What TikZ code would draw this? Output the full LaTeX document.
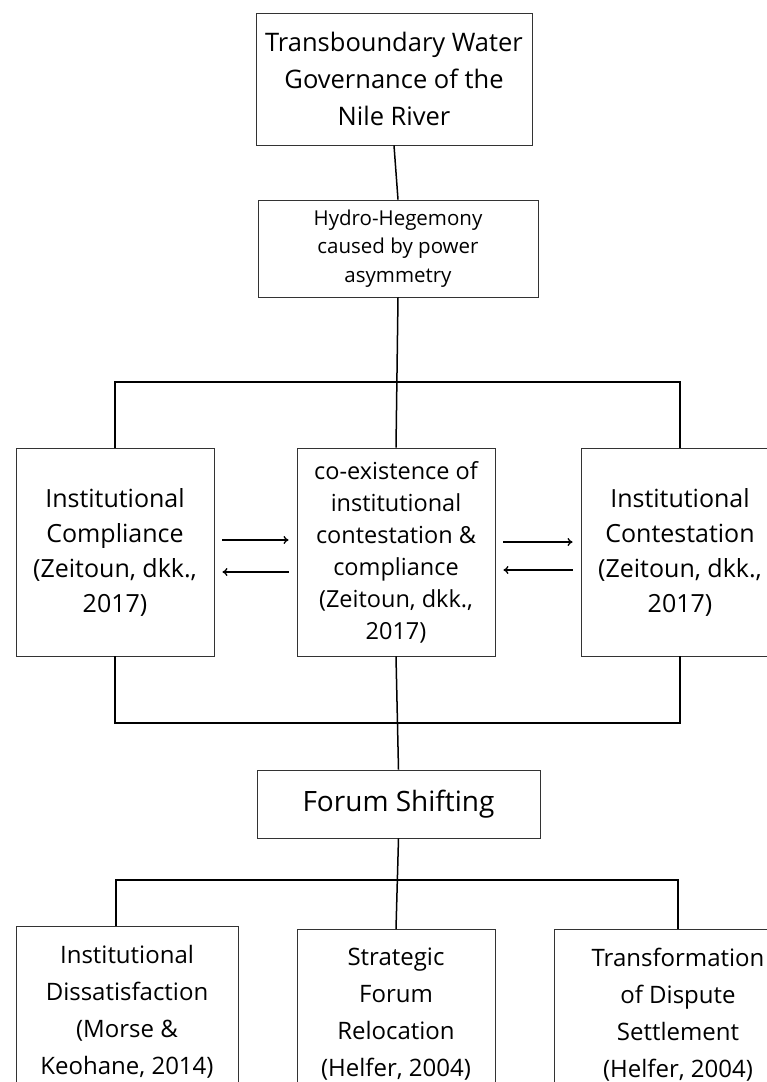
\documentclass[tikz,border=0pt]{standalone}
\usepackage{fontspec}
\setmainfont{Open Sans}
\usetikzlibrary{arrows.meta,positioning}
\tikzset{box/.style={draw=black!80,line width=0.9pt,align=center,inner sep=2pt}}
\tikzset{link/.style={line width=1.5pt,black}}
\tikzset{arr/.style={line width=1.3pt,-{To[length=5pt,width=8pt]},shorten <=8pt,shorten >=8pt}}

\begin{document}
\begin{tikzpicture}[x=1pt,y=-1pt]
  \clip (0,0) rectangle (767,1082);
  \fill[white] (0,0) rectangle (767,1082);
  % top of the hierarchy
  \node[box,minimum width=276pt,minimum height=132pt,font=\fontsize{25.5}{37}\selectfont] (nile) at (394,79)
  {Transboundary Water\\Governance of the\\Nile River};
  \node[box,minimum width=280pt,minimum height=97pt,font=\fontsize{20.5}{28.5}\selectfont] (hydro) at (398,248.5)
  {Hydro-Hegemony\\caused by power\\asymmetry};
  % three institutional responses
  \node[box,minimum width=198pt,minimum height=208pt,font=\fontsize{25}{35}\selectfont] (comp) at (115,552)
  {Institutional\\Compliance\\(Zeitoun, dkk.,\\2017)};
  \node[box,minimum width=198pt,minimum height=208pt,font=\fontsize{23.5}{32}\selectfont] (coex) at (396,552)
  {co-existence of\\institutional\\contestation \&\\compliance\\(Zeitoun, dkk.,\\2017)};
  \node[box,minimum width=198pt,minimum height=208pt,font=\fontsize{25}{35}\selectfont] (cont) at (680,552)
  {Institutional\\Contestation\\(Zeitoun, dkk.,\\2017)};
  \node[box,minimum width=283pt,minimum height=68pt,font=\fontsize{28}{32}\selectfont] (forum) at (398.5,804)
  {Forum Shifting};
  % outcomes of forum shifting
  \node[box,anchor=north,minimum width=222pt,minimum height=170pt,font=\fontsize{24}{37}\selectfont] (diss) at (127,926)
  {Institutional\\Dissatisfaction\\(Morse \&\\Keohane, 2014)};
  \node[box,anchor=north,minimum width=198pt,minimum height=170pt,font=\fontsize{24}{37}\selectfont] (reloc) at (396,929)
  {Strategic\\Forum\\Relocation\\(Helfer, 2004)};
  \node[box,anchor=north,minimum width=248pt,minimum height=170pt,font=\fontsize{24}{37}\selectfont] (settle) at (678,929)
  {Transformation\\of Dispute\\Settlement\\(Helfer, 2004)};
  % buses
  \coordinate (busA) at (0,382);
  \coordinate (busB) at (0,723);
  \coordinate (busC) at (0,880);
  \draw[link] (nile.south) -- (hydro.north);
  \draw[link] (hydro.south) -- (coex.north);
  \draw[link] (comp.north) -- (comp.north |- busA) -- (cont.north |- busA) -- (cont.north);
  \draw[link] (coex.south) -- (forum.north);
  \draw[link] (comp.south) -- (comp.south |- busB) -- (cont.south |- busB) -- (cont.south);
  \draw[link] (forum.south) -- (reloc.north);
  \draw[link] (diss.north) ++(-11,0) coordinate (dissin) -- (dissin |- busC)
    -- (settle.north |- busC) -- (settle.north);
  % arrows between the responses
  \draw[arr] ([yshift=12pt]comp.east) -- ([yshift=12pt]coex.west);
  \draw[arr] ([yshift=-20pt]coex.west) -- ([yshift=-20pt]comp.east);
  \draw[arr] ([yshift=10pt]coex.east) -- ([yshift=10pt]cont.west);
  \draw[arr] ([yshift=-18pt]cont.west) -- ([yshift=-18pt]coex.east);
\end{tikzpicture}
\end{document}
